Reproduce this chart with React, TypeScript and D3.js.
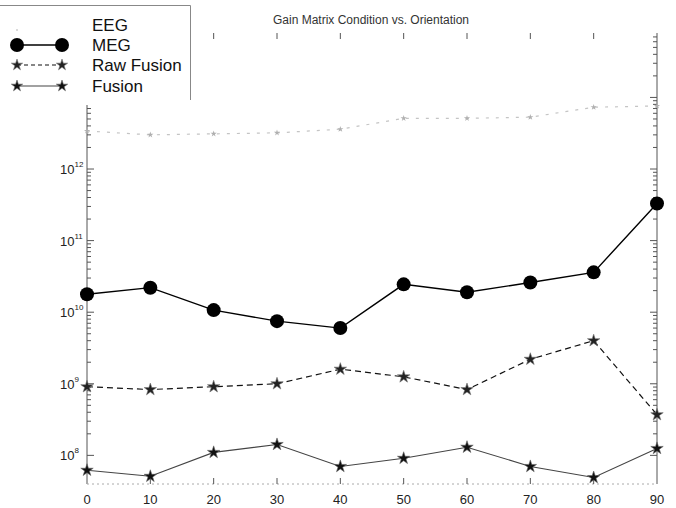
import * as React from "react";
import * as d3 from "d3";

const orientations = [0, 10, 20, 30, 40, 50, 60, 70, 80, 90];
const eeg = [3.4e12, 3.0e12, 3.1e12, 3.2e12, 3.6e12, 5.1e12, 5.1e12, 5.3e12, 7.3e12, 7.6e12];
const meg = [1.78e10, 2.2e10, 1.07e10, 7.5e9, 6.0e9, 2.45e10, 1.9e10, 2.6e10, 3.6e10, 3.3e11];
const rawFusion = [9.1e8, 8.3e8, 9.1e8, 1.0e9, 1.6e9, 1.25e9, 8.3e8, 2.2e9, 4.0e9, 3.7e8];
const fusion = [6.2e7, 5.1e7, 1.1e8, 1.42e8, 7.0e7, 9.1e7, 1.3e8, 7.0e7, 4.9e7, 1.25e8];
const decades = [8, 9, 10, 11, 12, 13];
const xTicks = [0, 10, 20, 30, 40, 50, 60, 70, 80, 90];
const legendLabels = ["EEG", "MEG", "Raw Fusion", "Fusion"];
const title = "Gain Matrix Condition vs. Orientation";

function drawChart(svgRef) {
  const width = 676;
  const height = 508;
  const left = 87, right = 657, top = 33, bottom = 484;

  const svg = d3.select(svgRef.current).attr("width", width).attr("height", height);
  svg.selectAll("*").remove();

  const x = d3.scaleLinear().domain([0, 90]).range([left, right]);
  const y = d3.scaleLog().domain([Math.pow(10, 7.6), Math.pow(10, 13.9)]).range([bottom, top]);

  svg.append("rect").attr("width", width).attr("height", height).attr("fill", "#fff");

  const axisColor = "#555";

  // axes frame
  svg.append("line").attr("x1", left).attr("x2", left).attr("y1", top).attr("y2", bottom)
    .attr("stroke", axisColor).attr("stroke-width", 1);
  svg.append("line").attr("x1", right).attr("x2", right).attr("y1", top).attr("y2", bottom)
    .attr("stroke", axisColor).attr("stroke-width", 1);
  svg.append("line").attr("x1", left).attr("x2", right).attr("y1", bottom).attr("y2", bottom)
    .attr("stroke", "#aaa").attr("stroke-width", 1).attr("stroke-dasharray", "2,3");

  // y ticks (major + minor) on both sides
  const yTickVals = [];
  decades.forEach(d => {
    for (let m = 1; m <= 9; m++) {
      const v = m * Math.pow(10, d);
      if (v >= y.domain()[0] && v <= y.domain()[1]) yTickVals.push({ v, major: m === 1 });
    }
  });
  [left, right].forEach((xx, i) => {
    const dir = i === 0 ? 1 : -1;
    svg.append("g").selectAll("line").data(yTickVals).enter().append("line")
      .attr("x1", xx).attr("x2", d => xx + dir * (d.major ? 7 : 4))
      .attr("y1", d => y(d.v)).attr("y2", d => y(d.v))
      .attr("stroke", axisColor).attr("stroke-width", 1);
  });

  // x ticks top and bottom
  svg.append("g").selectAll("line").data(xTicks.slice(1, -1)).enter().append("line")
    .attr("x1", d => x(d)).attr("x2", d => x(d)).attr("y1", top).attr("y2", top + 6)
    .attr("stroke", axisColor);
  svg.append("g").selectAll("line").data(xTicks.slice(1, -1)).enter().append("line")
    .attr("x1", d => x(d)).attr("x2", d => x(d)).attr("y1", bottom).attr("y2", bottom - 6)
    .attr("stroke", axisColor);

  // x tick labels
  svg.append("g").selectAll("text").data(xTicks).enter().append("text")
    .attr("x", d => x(d)).attr("y", 504).attr("text-anchor", "middle")
    .attr("font-family", "Liberation Sans, Arial, sans-serif").attr("font-size", 13)
    .attr("fill", "#222").text(d => d);

  // y tick labels
  const yl = svg.append("g").selectAll("text").data(decades).enter().append("text")
    .attr("x", 60).attr("y", d => y(Math.pow(10, d)) + 5)
    .attr("font-family", "Liberation Sans, Arial, sans-serif").attr("font-size", 13)
    .attr("fill", "#222");
  yl.append("tspan").text("10");
  yl.append("tspan").attr("dy", -7).attr("font-size", 8).text(d => d);

  // title
  svg.append("text").attr("x", 371).attr("y", 24).attr("text-anchor", "middle")
    .attr("font-family", "Liberation Sans, Arial, sans-serif").attr("font-size", 12)
    .attr("fill", "#333").text(title);

  const line = d3.line().x((d, i) => x(orientations[i])).y(d => y(d));
  const star = d3.symbol().type(d3.symbolStar);

  // EEG (faint dotted)
  svg.append("path").datum(eeg).attr("d", line).attr("fill", "none")
    .attr("stroke", "#c4c4c4").attr("stroke-width", 1.2).attr("stroke-dasharray", "3,7");
  svg.append("g").selectAll("path").data(eeg).enter().append("path")
    .attr("d", star.size(12)())
    .attr("transform", (d, i) => `translate(${x(orientations[i])},${y(d)})`)
    .attr("fill", "#b0b0b0");

  // Fusion
  svg.append("path").datum(fusion).attr("d", line).attr("fill", "none")
    .attr("stroke", "#444").attr("stroke-width", 1.1);
  svg.append("g").selectAll("path").data(fusion).enter().append("path")
    .attr("d", star.size(48)())
    .attr("transform", (d, i) => `translate(${x(orientations[i])},${y(d)})`)
    .attr("fill", "#111").attr("stroke", "#666").attr("stroke-width", 0.6);

  // Raw Fusion
  svg.append("path").datum(rawFusion).attr("d", line).attr("fill", "none")
    .attr("stroke", "#111").attr("stroke-width", 1.2).attr("stroke-dasharray", "6,4");
  svg.append("g").selectAll("path").data(rawFusion).enter().append("path")
    .attr("d", star.size(48)())
    .attr("transform", (d, i) => `translate(${x(orientations[i])},${y(d)})`)
    .attr("fill", "#222").attr("stroke", "#777").attr("stroke-width", 0.6);

  // MEG
  svg.append("path").datum(meg).attr("d", line).attr("fill", "none")
    .attr("stroke", "#000").attr("stroke-width", 1.4);
  svg.append("g").selectAll("circle").data(meg).enter().append("circle")
    .attr("cx", (d, i) => x(orientations[i])).attr("cy", d => y(d)).attr("r", 7)
    .attr("fill", "#000");

  // legend
  const lg = svg.append("g");
  lg.append("rect").attr("x", 0).attr("y", 5).attr("width", 190).attr("height", 100)
    .attr("fill", "#fff");
  lg.append("path").attr("d", "M0,5.5H190.5V100").attr("fill", "none")
    .attr("stroke", "#888").attr("stroke-width", 1);
  const rowsY = [25, 45, 65, 86];
  lg.selectAll("text").data(legendLabels).enter().append("text")
    .attr("x", 92).attr("y", (d, i) => rowsY[i] + 6)
    .attr("font-family", "Liberation Sans, Arial, sans-serif").attr("font-size", 17)
    .attr("fill", "#111").text(d => d);
  const lx1 = 17, lx2 = 62;
  // EEG row: just a faint dot
  lg.append("circle").attr("cx", lx1).attr("cy", rowsY[0] + 5).attr("r", 0.8).attr("fill", "#aaa");
  // MEG row
  lg.append("line").attr("x1", lx1).attr("x2", lx2).attr("y1", rowsY[1]).attr("y2", rowsY[1])
    .attr("stroke", "#000").attr("stroke-width", 1.4);
  [lx1, lx2].forEach(cx => lg.append("circle").attr("cx", cx).attr("cy", rowsY[1]).attr("r", 7).attr("fill", "#000"));
  // Raw Fusion row
  lg.append("line").attr("x1", lx1).attr("x2", lx2).attr("y1", rowsY[2]).attr("y2", rowsY[2])
    .attr("stroke", "#111").attr("stroke-width", 1.2).attr("stroke-dasharray", "4,3");
  [lx1, lx2].forEach(cx => lg.append("path").attr("d", star.size(40)())
    .attr("transform", `translate(${cx},${rowsY[2]})`).attr("fill", "#222").attr("stroke", "#777").attr("stroke-width", 0.6));
  // Fusion row
  lg.append("line").attr("x1", lx1).attr("x2", lx2).attr("y1", rowsY[3]).attr("y2", rowsY[3])
    .attr("stroke", "#444").attr("stroke-width", 1.1);
  [lx1, lx2].forEach(cx => lg.append("path").attr("d", star.size(40)())
    .attr("transform", `translate(${cx},${rowsY[3]})`).attr("fill", "#111").attr("stroke", "#666").attr("stroke-width", 0.6));
}

const App = () => {
  const svgRef = React.useRef(null);

  React.useEffect(() => {
    drawChart(svgRef);
  }, [svgRef]);

  return (
    <div style={{ position: "absolute", left: 0, top: 0 }}>
      <svg ref={svgRef} style={{ display: "block" }} />
    </div>
  );
};

export default App;
